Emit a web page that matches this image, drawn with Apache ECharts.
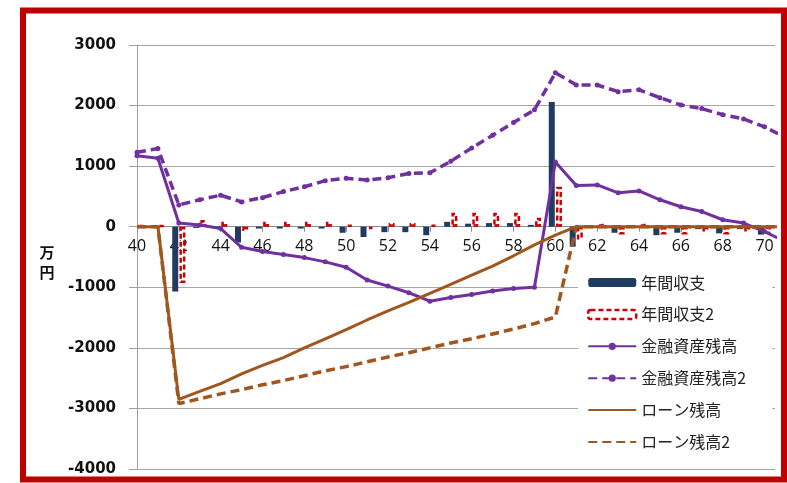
<!DOCTYPE html>
<html>
<head>
<meta charset="utf-8">
<script src="https://cdn.jsdelivr.net/npm/echarts@6/dist/echarts.min.js"></script>
<style>
html,body{margin:0;padding:0;background:#fff;}
#chart{width:787px;height:483px;}
</style>
</head>
<body>
<div id="chart"></div>
<script>
// ---- data ----
const years = [40,41,42,43,44,45,46,47,48,49,50,51,52,53,54,55,56,57,58,59,60,61,62,63,64,65,66,67,68,69,70,71];
const xTickLabels = [40,42,44,46,48,50,52,54,56,58,60,62,64,66,68,70];
const yTickLabels = [-4000,-3000,-2000,-1000,0,1000,2000,3000];
const seriesNames = ['年間収支','年間収支2','金融資産残高','金融資産残高2','ローン残高','ローン残高2'];
const balance  = [0,0,-1070,-20,-20,-260,-30,-30,-30,-30,-100,-170,-90,-90,-140,80,50,60,60,30,2060,-330,-20,-100,-20,-140,-100,-40,-110,-40,-130,null];
const balance2 = [25,25,-930,110,80,-70,80,80,80,80,30,-40,60,60,30,230,230,230,230,150,660,-210,50,-130,50,-130,-130,-80,-130,-80,-120,null];
const assets   = [1170,1130,60,30,-30,-340,-410,-460,-510,-580,-670,-880,-980,-1090,-1230,-1170,-1120,-1060,-1020,-1000,1070,680,690,560,590,445,330,250,115,60,-80,-250];
const assets2  = [1230,1290,360,445,520,410,480,580,660,760,800,770,810,880,890,1080,1300,1510,1720,1930,2540,2340,2340,2230,2260,2130,2010,1950,1850,1780,1650,1470];
const loan     = [0,0,-2850,-2720,-2590,-2430,-2290,-2160,-2000,-1850,-1700,-1540,-1390,-1250,-1100,-950,-800,-650,-480,-300,-140,0,0,0,0,0,0,0,0,0,0,0];
const loan2    = [0,0,-2920,-2840,-2760,-2690,-2610,-2540,-2460,-2380,-2310,-2230,-2150,-2080,-2000,-1920,-1850,-1770,-1690,-1600,-1490,0,0,0,0,0,0,0,0,0,0,0];

function pairs(arr){ return years.map((y,i)=>[y, arr[i]]); }

const chart = echarts.init(document.getElementById('chart'), null, {renderer:'canvas'});
const purple = '#7030A0', brown = '#A0561C', navy = '#1F3B60', red = '#D00000';
const gridTop = 45, gridBottom = 14, H = 483;
const yMin = -4000, yMax = 3000;
const plotH = H - gridTop - gridBottom;
const zeroOffset = -(plotH * (0 - yMin) / (yMax - yMin)); // move x axis up to y = 0

chart.setOption({
  animation:false,
  backgroundColor:'#fff',
  grid:{left:137, right:12, top:gridTop, bottom:gridBottom, containLabel:false},
  xAxis:{
    type:'value', min:40, max:70.5, interval:2,
    offset: zeroOffset,
    axisLine:{onZero:false, lineStyle:{color:'#8c8c8c', width:1}},
    axisTick:{show:true, length:5, customValues:xTickLabels, lineStyle:{color:'#8c8c8c'}},
    axisLabel:{customValues:xTickLabels, margin:12, fontFamily:'Open Sans', fontSize:16, color:'#111'},
    splitLine:{show:false}
  },
  yAxis:{
    type:'value', min:yMin, max:yMax, interval:1000,
    axisLine:{show:true, onZero:false, lineStyle:{color:'#a0a0a0'}},
    axisTick:{show:true, length:8, lineStyle:{color:'#a0a0a0'}},
    axisLabel:{customValues:yTickLabels, margin:21, fontFamily:'DejaVu Sans', fontWeight:'bold', fontSize:15, color:'#111',
      formatter:function(v){ return String(v); }},
    splitLine:{show:true, lineStyle:{color:'#a6a6a6', width:1.2}}
  },
  legend:{
    orient:'vertical', left:578, top:268,
    itemWidth:48, itemHeight:9, itemGap:14.9,
    padding:[6,26,8,9], backgroundColor:'#fff',
    textStyle:{fontFamily:'Noto Sans CJK JP', fontSize:16, color:'#222', lineHeight:17},
    data:[
      {name:seriesNames[0]},
      {name:seriesNames[1], itemStyle:{color:'#fff', borderColor:red, borderWidth:2.5, borderType:[5,3]}},
      {name:seriesNames[2]},
      {name:seriesNames[3]},
      {name:seriesNames[4], itemStyle:{color:'rgba(0,0,0,0)', borderWidth:0}},
      {name:seriesNames[5], itemStyle:{color:'rgba(0,0,0,0)', borderWidth:0}}
    ]
  },
  graphic:[
    {type:'rect', shape:{x:23, y:10.5, width:761, height:469}, style:{fill:'none', stroke:'#C00000', lineWidth:6}, z:100},
    {type:'text', x:47, y:242, style:{text:'万\n円', font:'bold 15px "Noto Sans CJK JP"', fill:'#111', textAlign:'center', lineHeight:20}}
  ],
  series:[
    {name:seriesNames[0], type:'bar', data:pairs(balance), barWidth:6, barGap:'20%',
     itemStyle:{color:navy}},
    {name:seriesNames[1], type:'bar', data:pairs(balance2), barWidth:6, barGap:'20%',
     itemStyle:{color:'#fff', borderColor:red, borderWidth:2.5, borderType:[5,3]}},
    {name:seriesNames[2], type:'line', data:pairs(assets), symbol:'circle', symbolSize:5,
     lineStyle:{color:purple, width:3}, itemStyle:{color:purple}, z:3},
    {name:seriesNames[3], type:'line', data:pairs(assets2), symbol:'circle', symbolSize:5,
     lineStyle:{color:purple, width:3.5, type:[9,5]}, itemStyle:{color:purple}, z:3},
    {name:seriesNames[4], type:'line', data:pairs(loan), symbol:'none', showSymbol:false,
     lineStyle:{color:brown, width:3}, itemStyle:{color:brown}, z:4},
    {name:seriesNames[5], type:'line', data:pairs(loan2), symbol:'none', showSymbol:false,
     lineStyle:{color:brown, width:3.5, type:[9,5]}, itemStyle:{color:brown}, z:4}
  ]
});
</script>
</body>
</html>
